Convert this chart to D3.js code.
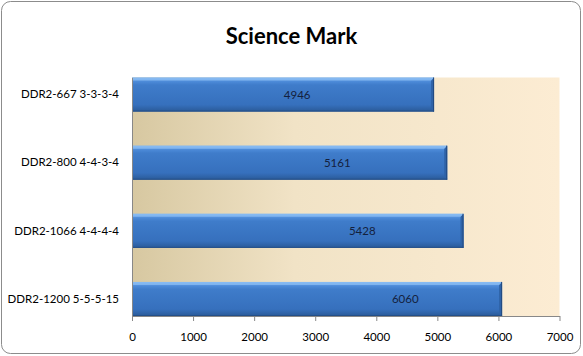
<!DOCTYPE html>
<html><head><meta charset="utf-8">
<script src="https://cdn.jsdelivr.net/npm/d3@7"></script>
<style>body{margin:0;background:#fff}svg{display:block}</style>
</head><body>
<script>
const categories = ["DDR2-667 3-3-3-4","DDR2-800 4-4-3-4","DDR2-1066 4-4-4-4","DDR2-1200 5-5-5-15"];
const values = [4946, 5161, 5428, 6060];
// where each value label sits, in data units
const labelAnchors = [2705, 3361, 3770, 4475];
const xTicks = [0,1000,2000,3000,4000,5000,6000,7000];
const title = "Science Mark";

const W = 583, H = 356;
const m = {left:132, right:23.5, top:77.5, bottom:40};
const svg = d3.select("body").append("svg").attr("width",W).attr("height",H);
const defs = svg.append("defs");

const bg = defs.append("linearGradient").attr("id","bg").attr("x1","0").attr("x2","1").attr("y1","0").attr("y2","0");
bg.append("stop").attr("offset","0%").attr("stop-color","#d7c8a1");
bg.append("stop").attr("offset","38%").attr("stop-color","#f1e3c6");
bg.append("stop").attr("offset","100%").attr("stop-color","#fcecd3");

const bar = defs.append("linearGradient").attr("id","bar").attr("x1","0").attr("x2","0").attr("y1","0").attr("y2","1");
bar.append("stop").attr("offset","0%").attr("stop-color","#79b0ee");
bar.append("stop").attr("offset","12%").attr("stop-color","#4c8ad8");
bar.append("stop").attr("offset","22%").attr("stop-color","#3f7cca");
bar.append("stop").attr("offset","80%").attr("stop-color","#3670bd");
bar.append("stop").attr("offset","100%").attr("stop-color","#2a5a98");

// chart border
svg.append("rect").attr("x",1.5).attr("y",1.5).attr("width",W-4).attr("height",H-4)
  .attr("rx",9).attr("fill","#fff").attr("stroke","#8c8c8c").attr("stroke-width",1);

svg.append("text").attr("x",W/2).attr("y",44).attr("text-anchor","middle")
  .attr("font-family","Lato, 'Open Sans', sans-serif").attr("font-weight","bold")
  .attr("font-size",22).attr("fill","#000").text(title);

const x = d3.scaleLinear().domain([0,7000]).range([m.left, W-m.right]);
const y = d3.scaleBand().domain(categories).range([m.top, H-m.bottom]).paddingInner(0.5).paddingOuter(0);

svg.append("rect").attr("x",x(0)).attr("y",m.top).attr("width",x(7000)-x(0)).attr("height",H-m.bottom-m.top)
  .attr("fill","url(#bg)");

const g = svg.append("g");
const bw = y.bandwidth();
const bev = 3;
categories.forEach((c,i)=>{
  const x0 = x(0), x1 = x(values[i]), y0 = y(c);
  g.append("rect").attr("x",x0).attr("y",y0).attr("width",x1-x0).attr("height",bw).attr("fill","url(#bar)");
  g.append("path").attr("d",`M${x1-bev},${y0+bev}L${x1},${y0}L${x1},${y0+bw}L${x1-bev},${y0+bw-bev}Z`).attr("fill","#2f63a8");
  g.append("path").attr("d",`M${x0},${y0}L${x1},${y0}L${x1-bev},${y0+bev}L${x0},${y0+bev}Z`).attr("fill","#8fc0f5").attr("opacity",0.7);
  g.append("line").attr("x1",x0).attr("x2",x1).attr("y1",y0+bw-0.5).attr("y2",y0+bw-0.5).attr("stroke","#244f88");
  g.append("line").attr("x1",x1-0.5).attr("x2",x1-0.5).attr("y1",y0).attr("y2",y0+bw).attr("stroke","#234a80");
  g.append("text").attr("x",x(labelAnchors[i])).attr("y",y0+bw/2+4).attr("text-anchor","middle")
    .attr("font-family","Lato, sans-serif").attr("font-size",11.5).attr("fill","#14213d").text(values[i]);
});

const xAxis = d3.axisBottom(x).tickValues(xTicks).tickSize(5).tickSizeOuter(0).tickFormat(d3.format("d"));
const ax = svg.append("g").attr("transform",`translate(0,${H-m.bottom})`).call(xAxis);
ax.select(".domain").attr("stroke","#888");
ax.selectAll(".tick line").attr("stroke","#888");
ax.selectAll("text").attr("font-family","Lato, sans-serif").attr("font-size",11.5).attr("fill","#000").attr("dy","1.5em");

const yAxis = d3.axisLeft(y).tickSize(0).tickPadding(13);
const ay = svg.append("g").attr("transform",`translate(${m.left},0)`).call(yAxis);
ay.select(".domain").attr("stroke","#888");
ay.selectAll("text").attr("font-family","Lato, sans-serif").attr("font-size",11.5).attr("fill","#000");
</script>
</body></html>
